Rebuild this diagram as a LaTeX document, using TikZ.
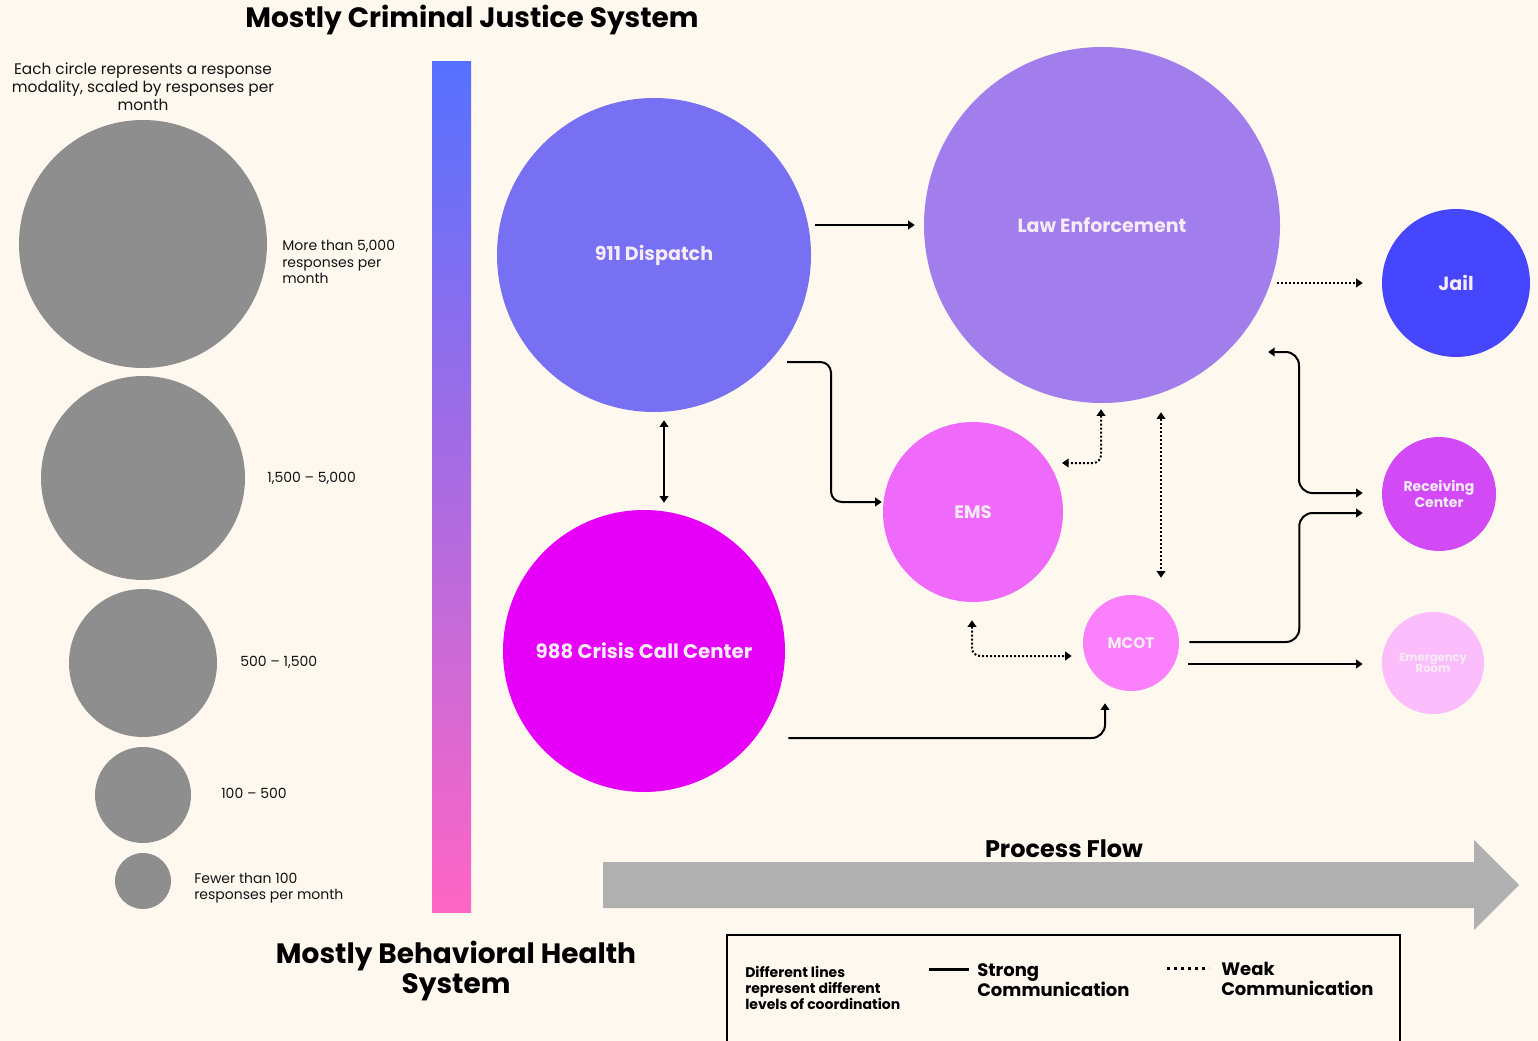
\documentclass[tikz,border=0pt]{standalone}
\usepackage{fontspec}
\setmainfont{Poppins}
\usetikzlibrary{arrows.meta,calc}
\definecolor{Cream}{RGB}{254,248,239}
\definecolor{ScaleGray}{RGB}{142,142,142}
\definecolor{BarBlue}{RGB}{86,113,255}
\definecolor{BarPurple}{RGB}{163,107,226}
\definecolor{BarPink}{RGB}{255,102,196}
\definecolor{DispatchViolet}{RGB}{120,112,242}
\definecolor{LawLilac}{RGB}{161,126,236}
\definecolor{JailBlue}{RGB}{70,70,255}
\definecolor{EMSPink}{RGB}{239,105,250}
\definecolor{CrisisMagenta}{RGB}{230,0,250}
\definecolor{MCOTPink}{RGB}{251,128,251}
\definecolor{ReceivingPurple}{RGB}{210,74,245}
\definecolor{ERPink}{RGB}{251,189,251}
\definecolor{FlowGray}{RGB}{176,176,176}
\definecolor{LabelWhite}{RGB}{246,234,246}
\definecolor{InkBlack}{RGB}{20,20,20}

\begin{document}
\begin{tikzpicture}[x=0.75pt,y=0.75pt,yscale=-1,xscale=1,
	>={Triangle[length=5pt,width=6.5pt]},
	sizecircle/.style={circle,fill=ScaleGray,inner sep=0pt},
	flowcircle/.style={circle,inner sep=0pt,text=LabelWhite,align=center,font=\bfseries\fontsize{14.3}{16}\selectfont},
	sizelabel/.style={anchor=west,inner sep=0.75pt,align=left,text=InkBlack,font=\fontsize{10.5}{12.4}\selectfont},
	bigtitle/.style={inner sep=0.75pt,align=center,font=\bfseries\fontsize{21}{23}\selectfont},
	keytext/.style={anchor=west,inner sep=0.75pt,align=left,font=\bfseries\fontsize{13.5}{15}\selectfont},
	strongline/.style={line width=1.5pt},
	weakline/.style={line width=1.5pt,dash pattern=on 1.5pt off 1.5pt},
	]

	%Background
	\fill [Cream] (0,0) rectangle (1538,1041) ;
	\useasboundingbox (0,0) rectangle (1538,1041) ;

	% Text Node
	\node [bigtitle] (cjtitle) at (472,20) {Mostly Criminal Justice System};
	% Text Node
	\node [bigtitle] (bhtitle) at (456,971) {Mostly Behavioral Health\\System};
	% Text Node
	\node [inner sep=0.75pt,align=center,text=InkBlack,font=\fontsize{11.5}{13.5}\selectfont] (sizenote) at (143,87) {Each circle represents a response\\modality, scaled by responses per\\month};

	%Shape: Circle (size key)
	\node [sizecircle,minimum size=186pt] (sizeA) at (143,244) {};
	\node [sizecircle,minimum size=153pt] (sizeB) at (143,478) {};
	\node [sizecircle,minimum size=111pt] (sizeC) at (143,663) {};
	\node [sizecircle,minimum size=72pt] (sizeD) at (143,795) {};
	\node [sizecircle,minimum size=42pt] (sizeE) at (143,881) {};
	% Text Node
	\node [sizelabel] (sizeAlabel) at (281,262) {More than 5,000\\responses per\\month};
	\node [sizelabel] (sizeBlabel) at (266,478) {1,500 – 5,000};
	\node [sizelabel] (sizeClabel) at (239,662) {500 – 1,500};
	\node [sizelabel] (sizeDlabel) at (220,793) {100 – 500};
	\node [sizelabel] (sizeElabel) at (193,888) {Fewer than 100\\responses per month};

	%Shape: Rectangle (system gradient)
	\shade [top color=BarBlue,middle color=BarPurple,bottom color=BarPink] (432,62) rectangle (471,912) ;

	%Shape: Circle (modalities)
	\node [flowcircle,fill=DispatchViolet,minimum size=235.5pt] (dispatch) at (654,255) {911 Dispatch};
	\node [flowcircle,fill=LawLilac,minimum size=267pt] (law) at (1102,225) {Law Enforcement};
	\node [flowcircle,fill=JailBlue,minimum size=111pt] (jail) at (1456,283) {Jail};
	\node [flowcircle,fill=EMSPink,minimum size=135pt,font=\bfseries\fontsize{13.5}{15}\selectfont] (ems) at (973,512) {EMS};
	\node [flowcircle,fill=CrisisMagenta,minimum size=211.5pt,font=\bfseries\fontsize{14.8}{16}\selectfont] (crisis) at (644,651) {988 Crisis Call Center};
	\node [flowcircle,fill=MCOTPink,minimum size=72pt,font=\bfseries\fontsize{11.5}{13}\selectfont] (mcot) at (1131,643) {MCOT};
	\node [flowcircle,fill=ReceivingPurple,minimum size=85.5pt,font=\bfseries\fontsize{10.5}{11.5}\selectfont] (receiving) at (1439,494) {Receiving\\Center};
	\node [flowcircle,fill=ERPink,minimum size=76.5pt,font=\bfseries\fontsize{8.7}{8.5}\selectfont] (er) at (1433,663) {Emergency\\Room};

	%Straight Lines (strong)
	\draw [strongline,->] ($(dispatch.east |- law)+(4,0)$) -- ($(law.west)+(-9,0)$) ;
	\draw [strongline,->,rounded corners=8] ($(dispatch.center)+(133,107)$) -- ++(44,0) |- ($(ems.west)+(-1,-10)$) ;
	\draw [strongline,<->] ($(dispatch.south)+(10,8)$) -- ($(crisis.north)+(20,-7)$) ;
	\draw [strongline,->,rounded corners=10] ($(crisis.east)+(3,87)$) -| ($(mcot.south)+(-26,12)$) ;
	\draw [strongline,<->,rounded corners=10] ($(law.center)+(166,127)$) -- ++(31,0) |- ($(receiving.west)+(-19,-1)$) ;
	\draw [strongline,->,rounded corners=10] ($(mcot.east)+(10,-1)$) -- ++(110,0) |- ($(receiving.west)+(-19,19)$) ;
	\draw [strongline,->] ($(mcot.east)+(9,21)$) -- ($(er.west)+(-19,1)$) ;

	%Straight Lines (weak)
	\draw [weakline,->] ($(law.east |- jail)+(-3,0)$) -- ($(jail.west)+(-19,0)$) ;
	\draw [weakline,<->,rounded corners=6] ($(law.south)+(-1,6)$) |- ($(ems.center)+(89,-49)$) ;
	\draw [weakline,<->] ($(law.south)+(59,9)$) -- ($(mcot.north)+(30,-17)$) ;
	\draw [weakline,<->,rounded corners=6] ($(ems.south)+(-1,18)$) |- ($(mcot.west)+(-11,13)$) ;

	%Shape: Arrow (process flow)
	\fill [FlowGray] (603,862) -- (1474,862) -- (1474,840) -- (1519,885) -- (1474,930) -- (1474,908) -- (603,908) -- cycle ;
	% Text Node
	\node [inner sep=0.75pt,font=\bfseries\fontsize{18}{20}\selectfont] (flowlabel) at (1064,849) {Process Flow};

	%Shape: Rectangle (key)
	\draw [line width=1.5pt] (727,935) rectangle (1400,1050) ;
	% Text Node
	\node [anchor=west,inner sep=0.75pt,align=left,font=\bfseries\fontsize{10.5}{12}\selectfont] (keynote) at (744,988) {Different lines\\represent different\\levels of coordination};
	\draw [line width=2.25pt] (929,969) -- (969,969) ;
	\node [keytext] (strongkey) at (976,980) {Strong\\Communication};
	\draw [line width=2.25pt,dash pattern=on 2.25pt off 3pt] (1167,968) -- (1209,968) ;
	\node [keytext] (weakkey) at (1220,979) {Weak\\Communication};

\end{tikzpicture}
\end{document}
